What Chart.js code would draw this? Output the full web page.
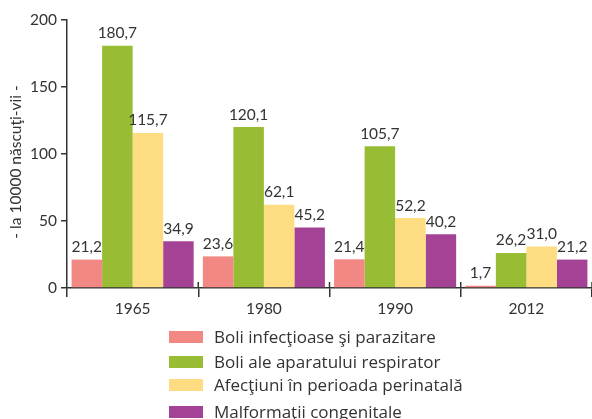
<!DOCTYPE html>
<html>
<head>
<meta charset="utf-8">
<script src="https://cdn.jsdelivr.net/npm/chart.js@4/dist/chart.umd.min.js"></script>
<style>
  html, body { margin: 0; padding: 0; background: #fff; }
  #wrap { position: relative; width: 592px; height: 419px; overflow: hidden; }
  #c { position: absolute; left: 0; top: 0; }
  .leg { position: absolute; left: 169px; height: 12px; font-family: "Open Sans", Lato, sans-serif; font-size: 17px; color: #333; white-space: nowrap; }
  .leg .box { position: absolute; left: 0; top: 0; width: 34px; height: 12px; }
  .leg .txt { position: absolute; left: 45px; top: 50%; transform: translateY(-52%); line-height: 1; }
</style>
</head>
<body>
<div id="wrap">
  <canvas id="c" width="592" height="419"></canvas>
  <div id="legend"></div>
</div>
<script>
const categories = ['1965', '1980', '1990', '2012'];
const seriesNames = [
  'Boli infecţioase şi parazitare',
  'Boli ale aparatului respirator',
  'Afecţiuni în perioada perinatală',
  'Malformaţii congenitale'
];
const infectioase = [21.2, 23.6, 21.4, 1.7];
const respirator = [180.7, 120.1, 105.7, 26.2];
const perinatala = [115.7, 62.1, 52.2, 31.0];
const malformatii = [34.9, 45.2, 40.2, 21.2];
const yTicks = [0, 50, 100, 150, 200];
const yTitle = '- la 10000 născuţi-vii -';

const colors = ['#F28884', '#98BD35', '#FDDC82', '#A44395'];
const seriesValues = [infectioase, respirator, perinatala, malformatii];
const FONT = 'Lato, "Open Sans", sans-serif';
const TXT = '#333333';

// HTML legend
const legendTops = [331, 356, 379, 406];
const legEl = document.getElementById('legend');
seriesNames.forEach((n, i) => {
  const d = document.createElement('div');
  d.className = 'leg';
  d.style.top = legendTops[i] + 'px';
  d.innerHTML = '<div class="box" style="background:' + colors[i] + '"></div><div class="txt"></div>';
  d.querySelector('.txt').textContent = n;
  legEl.appendChild(d);
});

const labelPlugin = {
  id: 'valueLabels',
  afterDatasetsDraw(chart) {
    const ctx = chart.ctx;
    ctx.save();
    ctx.font = '15.5px ' + FONT;
    ctx.fillStyle = TXT;
    ctx.textAlign = 'center';
    ctx.textBaseline = 'alphabetic';
    chart.data.datasets.forEach((ds, di) => {
      const meta = chart.getDatasetMeta(di);
      meta.data.forEach((el, i) => {
        const v = ds.data[i];
        ctx.fillText(v.toFixed(1).replace('.', ','), el.x, el.y - 7.5);
      });
    });
    ctx.restore();
  }
};

const axisExtras = {
  id: 'axisExtras',
  afterDraw(chart) {
    const ctx = chart.ctx;
    const a = chart.chartArea;
    const n = categories.length;
    const w = (a.right - a.left) / n;
    ctx.save();
    ctx.strokeStyle = TXT;
    ctx.lineWidth = 1.5;
    for (let i = 1; i <= n; i++) {
      const x = a.left + i * w;
      ctx.beginPath();
      ctx.moveTo(x, a.bottom - 6);
      ctx.lineTo(x, a.bottom);
      ctx.stroke();
    }
    // y axis title
    ctx.translate(16, 162);
    ctx.rotate(-Math.PI / 2);
    ctx.font = '15.5px ' + FONT;
    ctx.fillStyle = TXT;
    ctx.textAlign = 'center';
    ctx.textBaseline = 'middle';
    ctx.fillText(yTitle, 0, 0);
    ctx.restore();
  }
};

new Chart(document.getElementById('c'), {
  type: 'bar',
  data: {
    labels: categories,
    datasets: seriesNames.map((n, i) => ({
      label: n,
      data: seriesValues[i],
      backgroundColor: colors[i],
      borderWidth: 0,
      categoryPercentage: 0.93,
      barPercentage: 1.0
    }))
  },
  options: {
    responsive: false,
    devicePixelRatio: 1,
    animation: false,
    layout: { padding: { top: 20, left: 0, right: 0, bottom: 0 } },
    plugins: { legend: { display: false }, tooltip: { enabled: false } },
    scales: {
      x: {
        afterFit(s) { s.height = 131; },
        grid: { offset: true, drawOnChartArea: false, drawTicks: true, tickLength: 9, color: TXT, lineWidth: 1.5 },
        border: { display: true, color: TXT, width: 1.5 },
        ticks: { color: TXT, font: { family: FONT, size: 15.5 }, padding: 3 }
      },
      y: {
        min: 0, max: 200,
        afterFit(s) { s.width = 67; },
        afterBuildTicks(s) { s.ticks = yTicks.map(v => ({ value: v })); },
        grid: { drawOnChartArea: false, drawTicks: true, tickLength: 6, color: TXT, lineWidth: 1.5 },
        border: { display: true, color: TXT, width: 1.5 },
        ticks: { color: TXT, font: { family: FONT, size: 15.5 }, padding: 4 }
      }
    }
  },
  plugins: [labelPlugin, axisExtras]
});
</script>
</body>
</html>
